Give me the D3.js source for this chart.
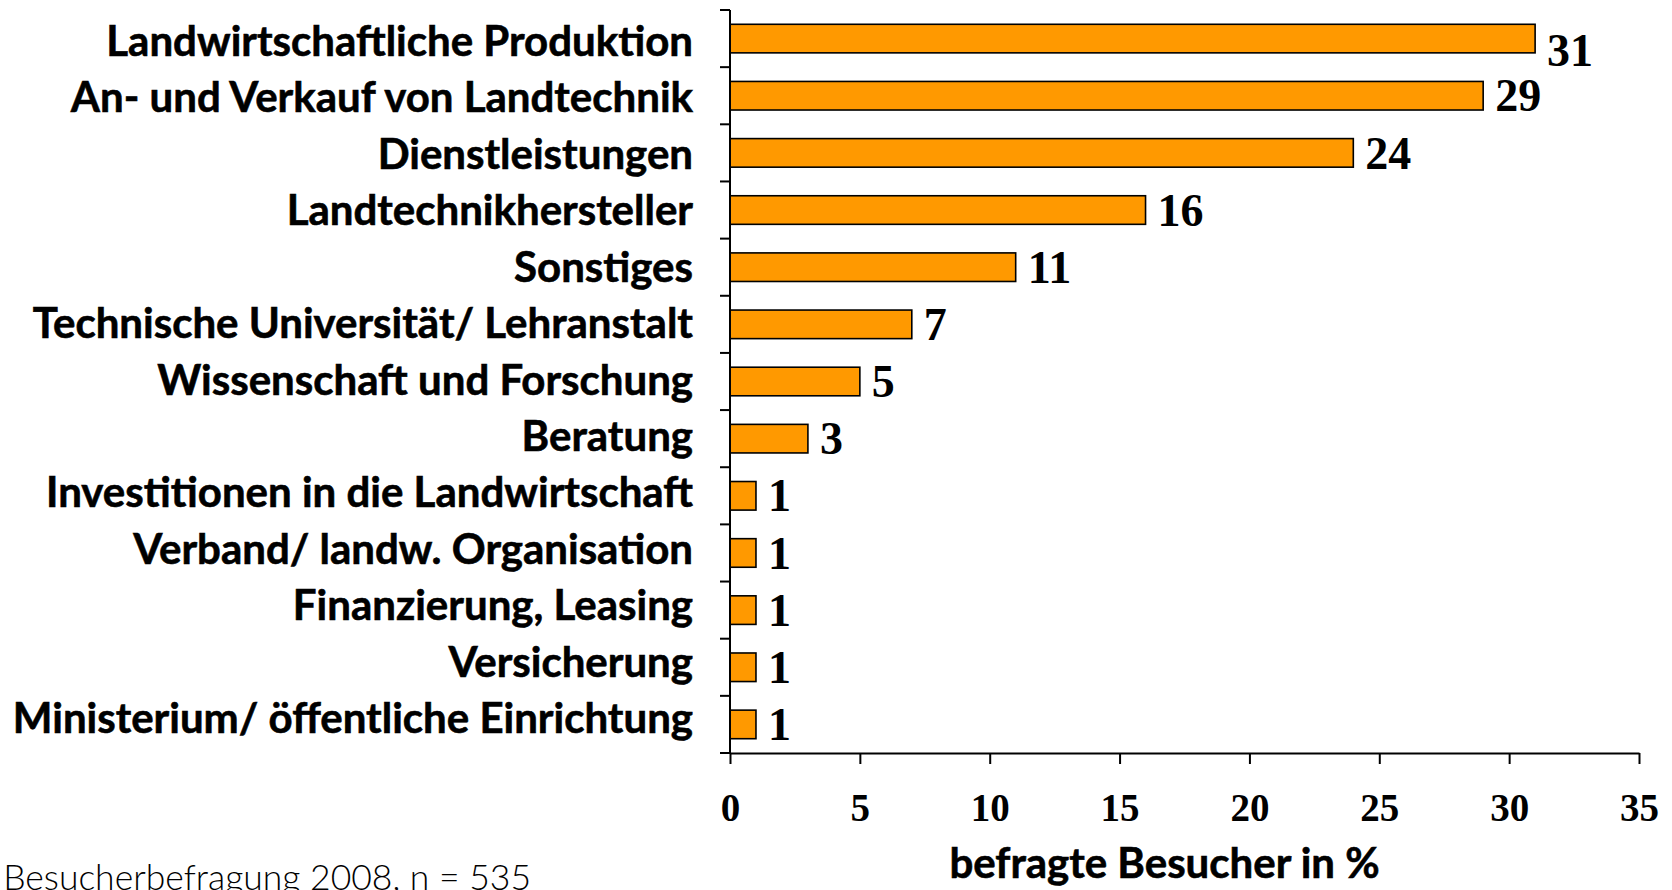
<!DOCTYPE html>
<html>
<head>
<meta charset="utf-8">
<script src="https://cdn.jsdelivr.net/npm/d3@7"></script>
<style>
  body { margin: 0; background: #fff; }
  svg { display: block; }
</style>
</head>
<body>
<div id="wrapper"></div>
<script>
const categories = [
    "Landwirtschaftliche Produktion",
    "An- und Verkauf von Landtechnik",
    "Dienstleistungen",
    "Landtechnikhersteller",
    "Sonstiges",
    "Technische Universität/ Lehranstalt",
    "Wissenschaft und Forschung",
    "Beratung",
    "Investitionen in die Landwirtschaft",
    "Verband/ landw. Organisation",
    "Finanzierung, Leasing",
    "Versicherung",
    "Ministerium/ öffentliche Einrichtung"
]
const values = [31, 29, 24, 16, 11, 7, 5, 3, 1, 1, 1, 1, 1]
const xTicks = [0, 5, 10, 15, 20, 25, 30, 35]
const xTitle = "befragte Besucher in %"
const sourceNote = "Besucherbefragung 2008, n = 535"

let dimensions = {
    width: 1672,
    height: 890,
    margin: {
        top: 10,
        right: 33,
        bottom: 137,
        left: 730,
    },
}
dimensions.boundedWidth = dimensions.width
    - dimensions.margin.left
    - dimensions.margin.right
dimensions.boundedHeight = dimensions.height
    - dimensions.margin.top
    - dimensions.margin.bottom

const sansFont = "Lato, 'Open Sans', sans-serif"
const serifFont = "'Liberation Serif', 'DejaVu Serif', serif"

const wrapper = d3.select("#wrapper")
  .append("svg")
    .attr("width", dimensions.width)
    .attr("height", dimensions.height)

const bounds = wrapper.append("g")
    .attr("transform", `translate(${dimensions.margin.left},${dimensions.margin.top})`)

const xScale = d3.scaleLinear()
    .domain([0, 35])
    .range([0, dimensions.boundedWidth])

const yScale = d3.scaleBand()
    .domain(categories)
    .range([0, dimensions.boundedHeight])

// label baselines drift a little against the bars in the original
const yLabel = d3.scalePoint()
    .domain(categories)
    .range([46, dimensions.boundedHeight - 20])

// bars
bounds.selectAll("rect.bar")
    .data(values)
    .join("rect")
    .attr("class", "bar")
    .attr("x", 0)
    .attr("y", (d, i) => yScale(categories[i]) + yScale.bandwidth() * 0.25)
    .attr("width", d => xScale(d))
    .attr("height", yScale.bandwidth() * 0.5)
    .attr("fill", "#ff9900")
    .attr("stroke", "#000")
    .attr("stroke-width", 1.6)

// value labels
bounds.selectAll("text.value")
    .data(values)
    .join("text")
    .attr("class", "value")
    .attr("x", d => xScale(d) + 12)
    .attr("y", (d, i) => yScale(categories[i]) + yScale.bandwidth() / 2 + (i === 0 ? 12 : 0))
    .attr("dy", "0.34em")
    .text(d => d)
    .style("font-family", serifFont)
    .style("font-weight", "bold")
    .style("font-size", "46px")

// y axis: line + ticks at category boundaries
bounds.append("line")
    .attr("x1", 0).attr("x2", 0)
    .attr("y1", 0).attr("y2", dimensions.boundedHeight)
    .attr("stroke", "#000").attr("stroke-width", 2)
const boundaries = categories.map(c => yScale(c)).concat([dimensions.boundedHeight])
bounds.selectAll("line.ytick")
    .data(boundaries)
    .join("line")
    .attr("class", "ytick")
    .attr("x1", -10).attr("x2", 0)
    .attr("y1", d => d).attr("y2", d => d)
    .attr("stroke", "#000").attr("stroke-width", 2)

// category labels
bounds.selectAll("text.cat")
    .data(categories)
    .join("text")
    .attr("class", "cat")
    .attr("x", -37)
    .attr("y", d => yLabel(d))
    .attr("text-anchor", "end")
    .text(d => d)
    .attr("stroke", "#000")
    .attr("stroke-width", 0.6)
    .style("font-family", sansFont)
    .style("font-weight", "bold")
    .style("font-size", "42px")

// x axis
const xAxisGenerator = d3.axisBottom(xScale)
    .tickValues(xTicks)
    .tickSize(11)
    .tickSizeOuter(0)
const xAxis = bounds.append("g")
    .attr("transform", `translate(0,${dimensions.boundedHeight})`)
    .call(xAxisGenerator)
xAxis.select(".domain").attr("stroke-width", 2)
xAxis.selectAll(".tick line").attr("stroke-width", 2)
xAxis.selectAll(".tick text")
    .attr("y", 68)
    .attr("dy", 0)
    .attr("fill", "#000")
    .style("font-family", serifFont)
    .style("font-weight", "bold")
    .style("font-size", "39px")

bounds.append("text")
    .attr("x", dimensions.boundedWidth / 2 - 20)
    .attr("y", dimensions.boundedHeight + 125)
    .attr("text-anchor", "middle")
    .text(xTitle)
    .attr("stroke", "#000")
    .attr("stroke-width", 0.6)
    .style("font-family", sansFont)
    .style("font-weight", "bold")
    .style("font-size", "42px")

// source note, cut off at the left edge like in the original
wrapper.append("text")
    .attr("x", 531)
    .attr("y", 890)
    .attr("text-anchor", "end")
    .text(sourceNote)
    .attr("fill", "#000")
    .style("font-family", sansFont)
    .style("font-weight", 300)
    .style("font-size", "35.5px")
</script>
</body>
</html>
